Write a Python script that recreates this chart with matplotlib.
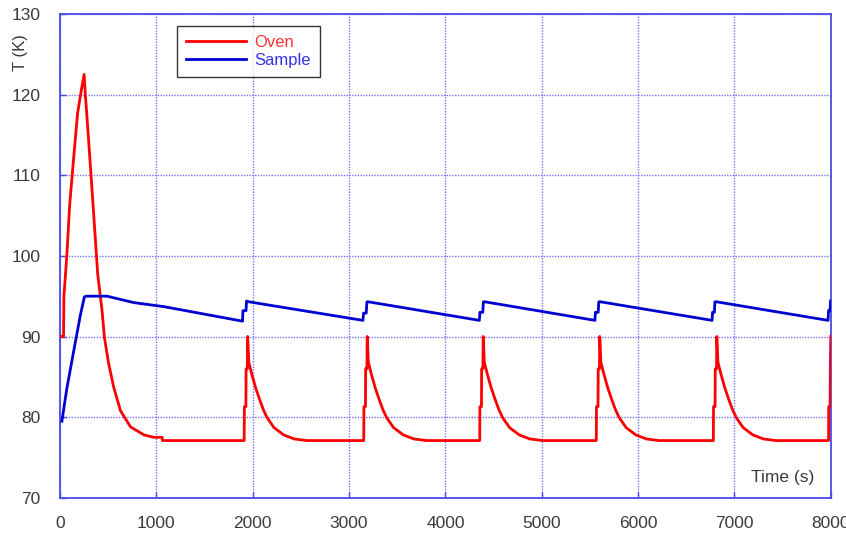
import matplotlib
matplotlib.use("Agg")
import matplotlib.pyplot as plt

plt.rcParams["font.family"] = ["Liberation Sans", "DejaVu Sans"]

# Oven temperature (K) versus time (s)
oven_time = [
    8, 36, 40, 70, 99, 140, 182, 227, 250, 262, 273, 314, 356, 391, 436, 460,
    505, 557, 627, 731, 870, 974, 1060, 1062,
    1911, 1913, 1929, 1931, 1944, 1947, 1959, 1991, 2031, 2071, 2111, 2151, 2221, 2321, 2431, 2561,
    3152, 3154, 3170, 3172, 3185, 3188, 3200, 3232, 3272, 3312, 3352, 3392, 3462, 3562, 3672, 3802,
    4356, 4358, 4374, 4376, 4389, 4392, 4404, 4436, 4476, 4516, 4556, 4596, 4666, 4766, 4876, 5006,
    5566, 5568, 5584, 5586, 5599, 5602, 5614, 5646, 5686, 5726, 5766, 5806, 5876, 5976, 6086, 6216,
    6781, 6783, 6799, 6801, 6814, 6817, 6829, 6861, 6901, 6941, 6981, 7021, 7091, 7191, 7301, 7431,
    7977, 7979, 7993, 7995, 8000,
]
oven_temp = [
    90.0, 90.0, 95.0, 100.0, 106.2, 112.0, 117.7, 121.0, 122.5, 120.0, 118.3, 111.3, 103.9, 97.7, 93.2, 89.9,
    86.6, 83.7, 80.8, 78.8, 77.8, 77.5, 77.5, 77.1,
    77.1, 81.3, 81.3, 86.0, 86.0, 90.0, 86.8, 85.3, 83.6, 82.2, 80.9, 79.9, 78.7, 77.8, 77.3, 77.1,
    77.1, 81.3, 81.3, 86.0, 86.0, 90.0, 86.8, 85.3, 83.6, 82.2, 80.9, 79.9, 78.7, 77.8, 77.3, 77.1,
    77.1, 81.3, 81.3, 86.0, 86.0, 90.0, 86.8, 85.3, 83.6, 82.2, 80.9, 79.9, 78.7, 77.8, 77.3, 77.1,
    77.1, 81.3, 81.3, 86.0, 86.0, 90.0, 86.8, 85.3, 83.6, 82.2, 80.9, 79.9, 78.7, 77.8, 77.3, 77.1,
    77.1, 81.3, 81.3, 86.0, 86.0, 90.0, 86.8, 85.3, 83.6, 82.2, 80.9, 79.9, 78.7, 77.8, 77.3, 77.1,
    77.1, 81.3, 81.3, 86.0, 90.0,
]

# Sample temperature (K) versus time (s)
sample_time = [
    19, 71, 140, 210, 252, 270, 487, 766, 1078,
    1894, 1898, 1930, 1936, 1960,
    3144, 3150, 3178, 3185, 3200,
    4352, 4358, 4388, 4394, 4410,
    5552, 5557, 5586, 5592, 5610,
    6768, 6773, 6792, 6797, 6815,
    7972, 7977, 7992, 7998,
]
sample_temp = [
    79.5, 83.6, 88.1, 92.6, 94.9, 95.0, 95.0, 94.2, 93.7,
    91.9, 93.2, 93.2, 94.4, 94.3,
    92.0, 92.9, 92.9, 94.3, 94.3,
    92.0, 93.0, 93.0, 94.3, 94.3,
    92.0, 93.0, 93.0, 94.3, 94.3,
    92.0, 93.0, 93.0, 94.3, 94.3,
    92.0, 93.2, 93.2, 94.4,
]

x_ticks = [0, 1000, 2000, 3000, 4000, 5000, 6000, 7000, 8000]
y_ticks = [70, 80, 90, 100, 110, 120, 130]

frame_blue = "#4b4be6"
grid_blue = "#7373ff"
label_grey = "#3a3a3a"

fig = plt.figure(figsize=(8.46, 5.33), dpi=100)
ax = fig.add_axes([0.071, 0.066, 0.911, 0.908])

ax.plot(oven_time, oven_temp, color="#ff0000", lw=2.0, label="Oven", zorder=3)
ax.plot(sample_time, sample_temp, color="#0000d0", lw=2.0, label="Sample", zorder=3)

ax.set_xlim(0, 8000)
ax.set_ylim(70, 130)
ax.set_xticks(x_ticks)
ax.set_yticks(y_ticks)
ax.grid(True, color=grid_blue, linestyle=(0, (1, 1)), linewidth=1.0)

for spine in ax.spines.values():
    spine.set_color(frame_blue)
    spine.set_linewidth(1.3)

ax.tick_params(axis="both", direction="in", length=4, width=1.0, color=frame_blue,
               labelcolor=label_grey, labelsize=12.5)
ax.tick_params(axis="x", pad=13)
ax.tick_params(axis="y", pad=14)

ax.text(0.979, 0.041, "Time (s)", transform=ax.transAxes, ha="right", va="center",
        fontsize=12.5, color=label_grey)
fig.text(0.024, 0.902, "T (K)", rotation=90, ha="center", va="center",
         fontsize=12, color=label_grey)

leg = ax.legend(loc="upper left", bbox_to_anchor=(0.152, 0.975), borderaxespad=0,
                frameon=True, fancybox=False, edgecolor="black", fontsize=12,
                handlelength=3.6, borderpad=0.55, labelspacing=0.15, handletextpad=0.5)
leg.get_frame().set_linewidth(1.0)
leg.get_texts()[0].set_color("#ff3333")
leg.get_texts()[1].set_color("#3333ee")

fig.savefig("out.png", dpi=100)
